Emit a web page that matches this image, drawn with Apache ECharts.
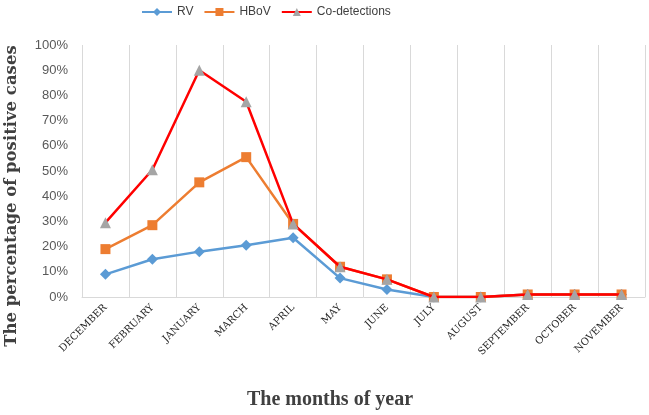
<!DOCTYPE html>
<html><head><meta charset="utf-8">
<script src="https://cdn.jsdelivr.net/npm/echarts@6/dist/echarts.min.js"></script>
<style>html,body{margin:0;padding:0;background:#fff}#c{width:649px;height:415px}</style>
</head><body><div id="c"></div>
<script>
const months = ["DECEMBER","FEBRUARY","JANUARY","MARCH","APRIL","MAY","JUNE","JULY","AUGUST","SEPTEMBER","OCTOBER","NOVEMBER"];
const rv = [9, 15, 18, 20.5, 23.5, 7.5, 3, 0, 0, 1, 1, 1];
const hbov = [19, 28.5, 45.5, 55.5, 29, 12, 7, 0, 0, 1, 1, 1];
const co = [29.5, 50.5, 90, 77.5, 29, 12, 7, 0, 0, 1, 1, 1];
const yTicks = [0,10,20,30,40,50,60,70,80,90,100];
const xTitle = 'The months of year';
const yTitle = 'The percentage of positive cases';

const serif = 'Liberation Serif, Times New Roman, serif';
const chart = echarts.init(document.getElementById('c'), null, {renderer:'canvas'});
chart.setOption({
  animation:false,
  legend:{
    top:1, left:136, itemGap:10, itemWidth:30, itemHeight:10,
    textStyle:{fontFamily:'Liberation Sans, Arial', fontSize:12, color:'#404040'},
    data:['RV','HBoV','Co-detections']
  },
  grid:{left:82, right:4, top:45, bottom:118, containLabel:false, outerBoundsMode:'none'},
  xAxis:{
    type:'category', data:months, boundaryGap:true,
    axisLine:{lineStyle:{color:'#d9d9d9', width:1}},
    axisTick:{show:false},
    splitLine:{show:true, interval:0, lineStyle:{color:'#d9d9d9', width:1}},
    axisLabel:{rotate:45, interval:0, margin:9, fontFamily:'DejaVu Serif, serif', fontSize:10, color:'#262626'}
  },
  yAxis:{
    type:'value', min:0, max:100, interval:10,
    axisLine:{show:false}, axisTick:{show:false}, splitLine:{show:false},
    axisLabel:{margin:14, fontFamily:'Liberation Sans, Arial', fontSize:13, color:'#595959',
      formatter:v=> yTicks.includes(v) ? v+'%' : ''}
  },
  graphic:[
    {type:'text', x:12, y:196, rotation:Math.PI/2,
     style:{text:yTitle, fill:'#404040', font:'bold 16.5px DejaVu Serif, serif', textAlign:'center', textVerticalAlign:'middle'}},
    {type:'text', x:330, y:400,
     style:{text:xTitle, fill:'#404040', font:'bold 20px '+serif, textAlign:'center', textVerticalAlign:'middle'}}
  ],
  series:[
    {name:'RV', type:'line', data:rv, symbol:'diamond', symbolSize:11, z:2,
     lineStyle:{color:'#5b9bd5', width:2.5}, itemStyle:{color:'#5b9bd5'}},
    {name:'HBoV', type:'line', data:hbov, symbol:'rect', symbolSize:10, z:3,
     lineStyle:{color:'#ed7d31', width:2.5}, itemStyle:{color:'#ed7d31'}},
    {name:'Co-detections', type:'line', data:co, symbol:'triangle', symbolSize:11, z:4,
     lineStyle:{color:'#ff0000', width:2.5}, itemStyle:{color:'#a5a5a5'}}
  ]
});
</script></body></html>
